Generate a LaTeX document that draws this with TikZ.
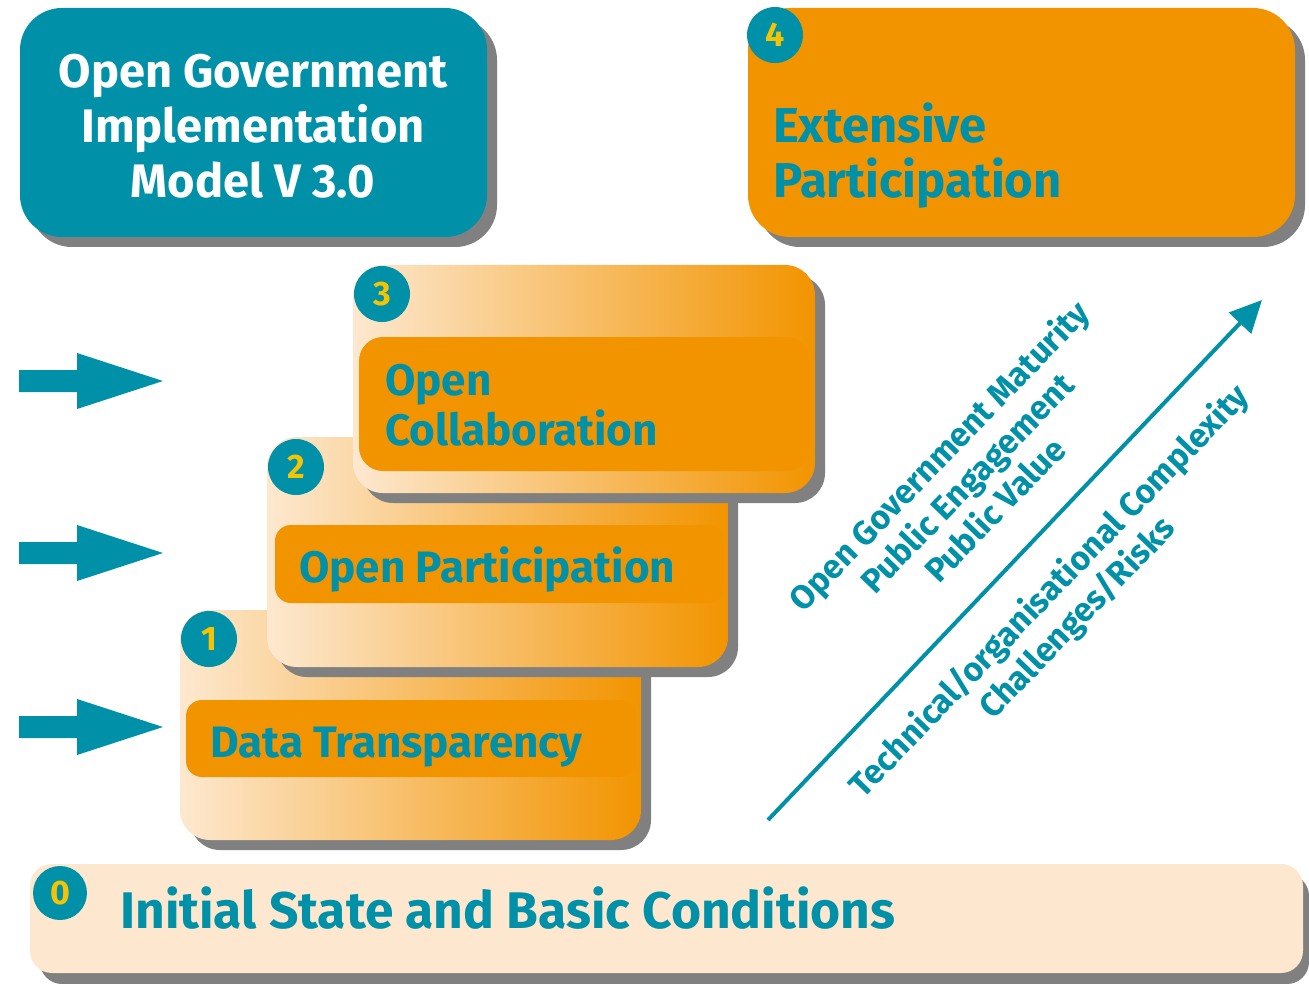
\documentclass[tikz,border=0pt]{standalone}
\usepackage{fontspec}
\setmainfont{Fira Sans}
\usetikzlibrary{arrows.meta}
\definecolor{ogteal}{HTML}{0090A7}
\definecolor{ogorange}{HTML}{F29400}
\definecolor{ogpeach}{HTML}{FDE8CF}
\definecolor{oggrey}{HTML}{808080}
\definecolor{ogyellow}{HTML}{F5C400}
\tikzset{
  shadowfill/.style={fill=oggrey, rounded corners=30pt},
  badge/.style={circle, fill=ogteal, minimum size=56pt, inner sep=0pt, text=ogyellow,
    font=\bfseries\fontsize{34}{34}\selectfont},
  boxtext/.style={anchor=base west, text=ogteal, inner sep=0pt,
    font=\bfseries\fontsize{44}{50}\selectfont},
  diagtext/.style={text=ogteal, align=center, rotate=46, inner sep=0pt,
    font=\bfseries\fontsize{33.5}{39}\selectfont},
  bigarrow/.style={fill=ogteal}
}
\begin{document}
\begin{tikzpicture}[x=1pt,y=-1pt]
\useasboundingbox (0,0) rectangle (1309,984);

% ---- title box
\fill[shadowfill, rounded corners=42pt] (30,18) rectangle (497,247);
\fill[ogteal, rounded corners=42pt] (20,8) rectangle (487,237);
\node[text=white, align=center, inner sep=0pt, font=\bfseries\fontsize{47}{55}\selectfont] (title) at (253,126)
  {Open Government\\Implementation\\Model V 3.0};

% ---- box 4
\fill[shadowfill, rounded corners=42pt] (758,18) rectangle (1305,247);
\fill[ogorange, rounded corners=42pt] (748,8) rectangle (1295,237);
\node[boxtext, font=\bfseries\fontsize{49}{55}\selectfont] (t4a) at (773,143) {Extensive};
\node[boxtext, font=\bfseries\fontsize{49}{55}\selectfont] (t4b) at (773,198) {Participation};
\node[badge] (b4) at (775,35) {4};

% ---- box 0
\fill[oggrey, rounded corners=22pt] (40,874) rectangle (1309,984);
\fill[ogpeach, rounded corners=22pt] (30,864) rectangle (1303,973);
\node[boxtext, font=\bfseries\fontsize{51.5}{55}\selectfont] (t0) at (120,928) {Initial State and Basic Conditions};
\node[badge, minimum size=54pt] (b0) at (60,893) {0};

% ---- box 1
\fill[shadowfill] (190,620) rectangle (651,850);
\shade[left color=ogpeach, right color=ogorange, rounded corners=30pt] (180,610) rectangle (641,840);
\fill[ogorange, rounded corners=16pt] (186,700) rectangle (636,777);
\node[boxtext] (t1) at (210,757) {Data Transparency};
\node[badge] (b1) at (209,639) {1};

% ---- box 2
\fill[shadowfill] (277,447) rectangle (738,677);
\shade[left color=ogpeach, right color=ogorange, rounded corners=30pt] (267,437) rectangle (728,667);
\fill[ogorange, rounded corners=16pt] (275,525) rectangle (724,603);
\node[boxtext] (t2) at (299,582) {Open Participation};
\node[badge] (b2) at (296,467) {2};

% ---- box 3
\fill[shadowfill] (363,275) rectangle (825,503);
\shade[left color=ogpeach, right color=ogorange, rounded corners=30pt] (353,265) rectangle (815,493);
\fill[ogorange, rounded corners=24pt] (359,337) rectangle (810,471);
\node[boxtext] (t3a) at (385,395) {Open};
\node[boxtext] (t3b) at (385,445) {Collaboration};
\node[badge] (b3) at (382,294) {3};

% ---- left arrows
\foreach \yy/\nm in {381/la1, 553/la2, 727/la3}{
  \fill[bigarrow] (19,\yy-11) -- (77,\yy-11) -- (77,\yy-28) -- (163,\yy) -- (77,\yy+28) -- (77,\yy+11) -- (19,\yy+11) -- cycle;
}

% ---- diagonal arrow and labels
\coordinate (as) at (768,820);
\coordinate (ae) at (1262,300);
\draw[ogteal, line width=4pt, -{Triangle[length=32pt,width=30pt]}] (as) -- (ae);
\node[diagtext] (d1) at (966,482) {Open Government Maturity\\Public Engagement\\Public Value};
\node[diagtext] (d2) at (1064,605) {Technical/organisational Complexity\\Challenges/Risks};
\end{tikzpicture}
\end{document}
